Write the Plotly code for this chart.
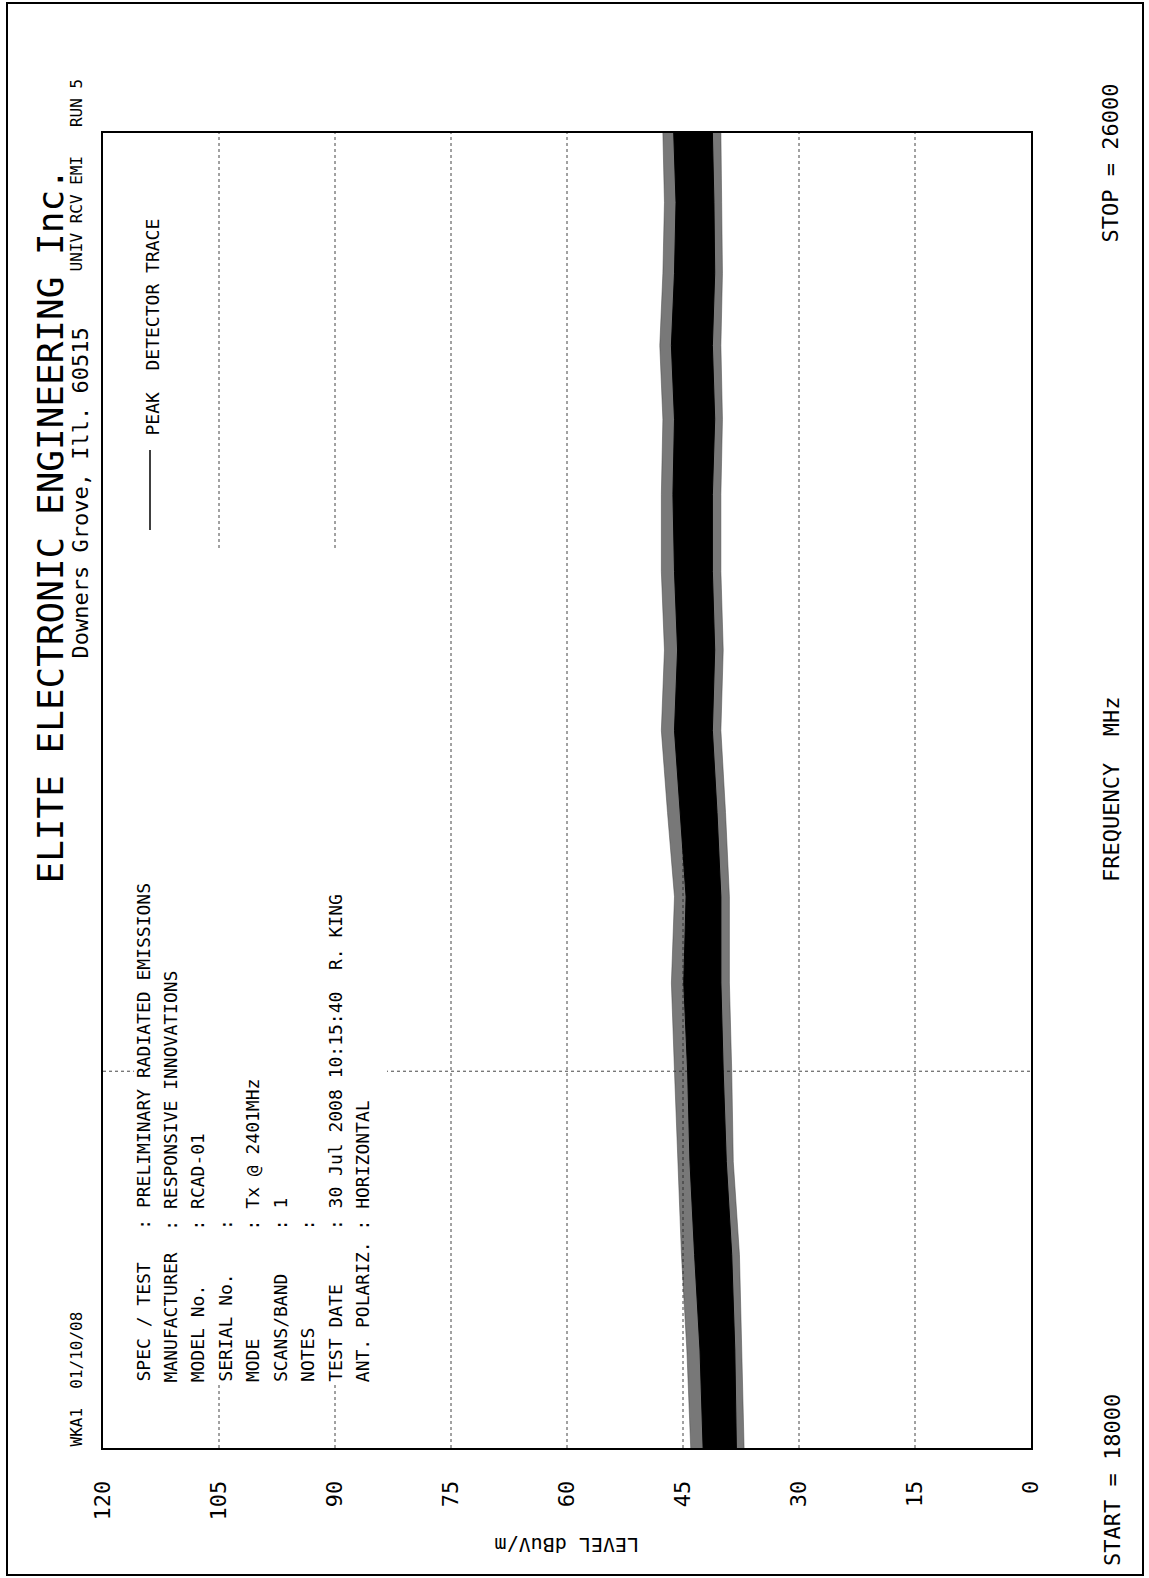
import math
import plotly.graph_objects as go

# ---------------- data ----------------
freq_mhz = [18000, 18500, 19000, 19500, 20000, 20500, 21000, 21500, 22000,
            22500, 23000, 23500, 24000, 24500, 25000, 25500, 26000]
# dense core of the peak-detector trace (dBuV/m)
core_hi = [42.4, 42.8, 43.5, 44.1, 44.4, 44.9, 44.6, 45.4, 46.1,
           45.7, 46.1, 46.3, 46.1, 46.5, 46.1, 45.9, 46.2]
core_lo = [38.1, 38.3, 38.7, 39.4, 39.8, 40.1, 40.1, 40.6, 41.2,
           40.9, 41.2, 41.2, 40.9, 41.2, 40.9, 41.0, 41.2]
# sparse spikes around the core
spike_hi = [44.0, 44.5, 45.2, 45.7, 46.1, 46.5, 46.1, 47.0, 47.8,
            47.4, 47.8, 47.8, 47.6, 48.0, 47.6, 47.4, 47.6]
spike_lo = [37.1, 37.4, 37.7, 38.5, 38.7, 39.0, 39.0, 39.5, 40.1,
            39.8, 40.1, 40.1, 39.9, 40.1, 39.9, 40.0, 40.1]

level_ticks = [0, 15, 30, 45, 60, 75, 90, 105, 120]
level_grid = [15, 30, 45, 60, 75, 90, 105]
freq_grid = [20000]
f_start, f_stop = 18000, 26000

header_left = "WKA1  01/10/08"
header_right = "UNIV RCV EMI   RUN 5"
title = "ELITE ELECTRONIC ENGINEERING Inc."
subtitle = "Downers Grove, Ill. 60515"
info_labels = ["SPEC / TEST", "MANUFACTURER", "MODEL No.", "SERIAL No.", "MODE",
               "SCANS/BAND", "NOTES", "TEST DATE", "ANT. POLARIZ."]
info_values = ["PRELIMINARY RADIATED EMISSIONS", "RESPONSIVE INNOVATIONS", "RCAD-01", "",
               "Tx @ 2401MHz", "1", "", "30 Jul 2008 10:15:40  R. KING", "HORIZONTAL"]
legend_text = "PEAK  DETECTOR TRACE"

# ---------------- layout geometry (pixels) ----------------
W, H = 1149, 1578
X0, X1 = 103, 1031   # plot left/right
Y0, Y1 = 133, 1448   # plot top/bottom


def px(x):
    return (x - X0) / (X1 - X0)


def py(y):
    return (Y1 - y) / (Y1 - Y0)


def nb(s):
    return s.replace(" ", "\u00a0")


MONO = "DejaVu Sans Mono, Liberation Mono, monospace"

fig = go.Figure()

# spike fringe, then dense core (black)
fig.add_trace(go.Scatter(x=spike_lo, y=freq_mhz, mode="lines", line=dict(color="#444", width=0.5),
                         hoverinfo="skip", showlegend=False))
fig.add_trace(go.Scatter(x=spike_hi, y=freq_mhz, mode="lines", line=dict(color="#444", width=0.5),
                         fill="tonextx", fillcolor="rgba(30,30,30,0.6)", hoverinfo="skip", showlegend=False))
fig.add_trace(go.Scatter(x=core_lo, y=freq_mhz, mode="lines", line=dict(color="black", width=1),
                         hoverinfo="skip", showlegend=False))
fig.add_trace(go.Scatter(x=core_hi, y=freq_mhz, mode="lines", line=dict(color="black", width=1),
                         fill="tonextx", fillcolor="black", name="PEAK DETECTOR TRACE",
                         hoverinfo="skip", showlegend=False))

fig.update_layout(
    width=W, height=H,
    margin=dict(l=X0, r=W - X1, t=Y0, b=H - Y1),
    paper_bgcolor="white", plot_bgcolor="white",
    showlegend=False,
    font=dict(family=MONO, color="black"),
    xaxis=dict(
        range=[120, 0], tickvals=level_ticks, ticktext=[str(v) for v in level_ticks],
        tickangle=-90, tickfont=dict(size=22, family=MONO), ticks="", ticklabelstandoff=22,
        showgrid=False, zeroline=False,
        showline=True, mirror=True, linecolor="black", linewidth=2,
    ),
    yaxis=dict(
        type="log", range=[math.log10(f_start), math.log10(f_stop)],
        showticklabels=False, ticks="",
        showgrid=False, zeroline=False,
        showline=True, mirror=True, linecolor="black", linewidth=2,
    ),
)

shapes = []
# dotted grid lines
for lv in level_grid:
    shapes.append(dict(type="line", xref="x", yref="paper", x0=lv, x1=lv, y0=0, y1=1,
                       line=dict(color="#444", width=1, dash="dot"), layer="below"))
for fg in freq_grid:
    shapes.append(dict(type="line", xref="paper", yref="y", x0=0, x1=1, y0=fg, y1=fg,
                       line=dict(color="#444", width=1, dash="dot"), layer="below"))
# white box behind the information block
shapes.append(dict(type="rect", xref="paper", yref="paper", x0=px(134), x1=px(387),
                   y0=py(1383), y1=py(551), fillcolor="white", line=dict(width=0), layer="below"))
# legend line
shapes.append(dict(type="line", xref="paper", yref="paper", x0=px(150), x1=px(150),
                   y0=py(450), y1=py(530), line=dict(color="black", width=1.5)))
# page border
shapes.append(dict(type="rect", xref="paper", yref="paper", x0=px(7), x1=px(1143),
                   y0=py(1575), y1=py(3), line=dict(color="black", width=2), fillcolor="rgba(0,0,0,0)"))
fig.update_layout(shapes=shapes)

ann = []


def rot_text(text, xc, y_start, size, anchor="bottom"):
    ann.append(dict(text=nb(text), xref="paper", yref="paper", x=px(xc), y=py(y_start),
                    xanchor="center", yanchor=anchor, textangle=-90, showarrow=False,
                    font=dict(size=size, family=MONO, color="black"), borderpad=0))


rot_text(title, 50, 885, 36)
rot_text(subtitle, 80, 660, 22)
rot_text(header_left, 76, 1448, 16)
rot_text(header_right, 76, 78, 16, anchor="top")
for i, (lab, val) in enumerate(zip(info_labels, info_values)):
    line = f"{lab:<14}: {val}".rstrip()
    rot_text(line, 143 + i * 27.4, 1383, 18)
rot_text(legend_text, 152, 437, 18)
rot_text("START = " + str(f_start), 1112, 1567, 22)
rot_text("STOP = " + str(f_stop), 1110, 83, 22, anchor="top")
rot_text("FREQUENCY  MHz", 1111, 790, 22, anchor="middle")
ann.append(dict(text=nb("LEVEL dBuV/m"), xref="paper", yref="paper", x=px(567), y=py(1545),
                xanchor="center", yanchor="middle", textangle=180, showarrow=False,
                font=dict(size=20, family=MONO, color="black")))
fig.update_layout(annotations=ann)

fig.write_html("out.html")
